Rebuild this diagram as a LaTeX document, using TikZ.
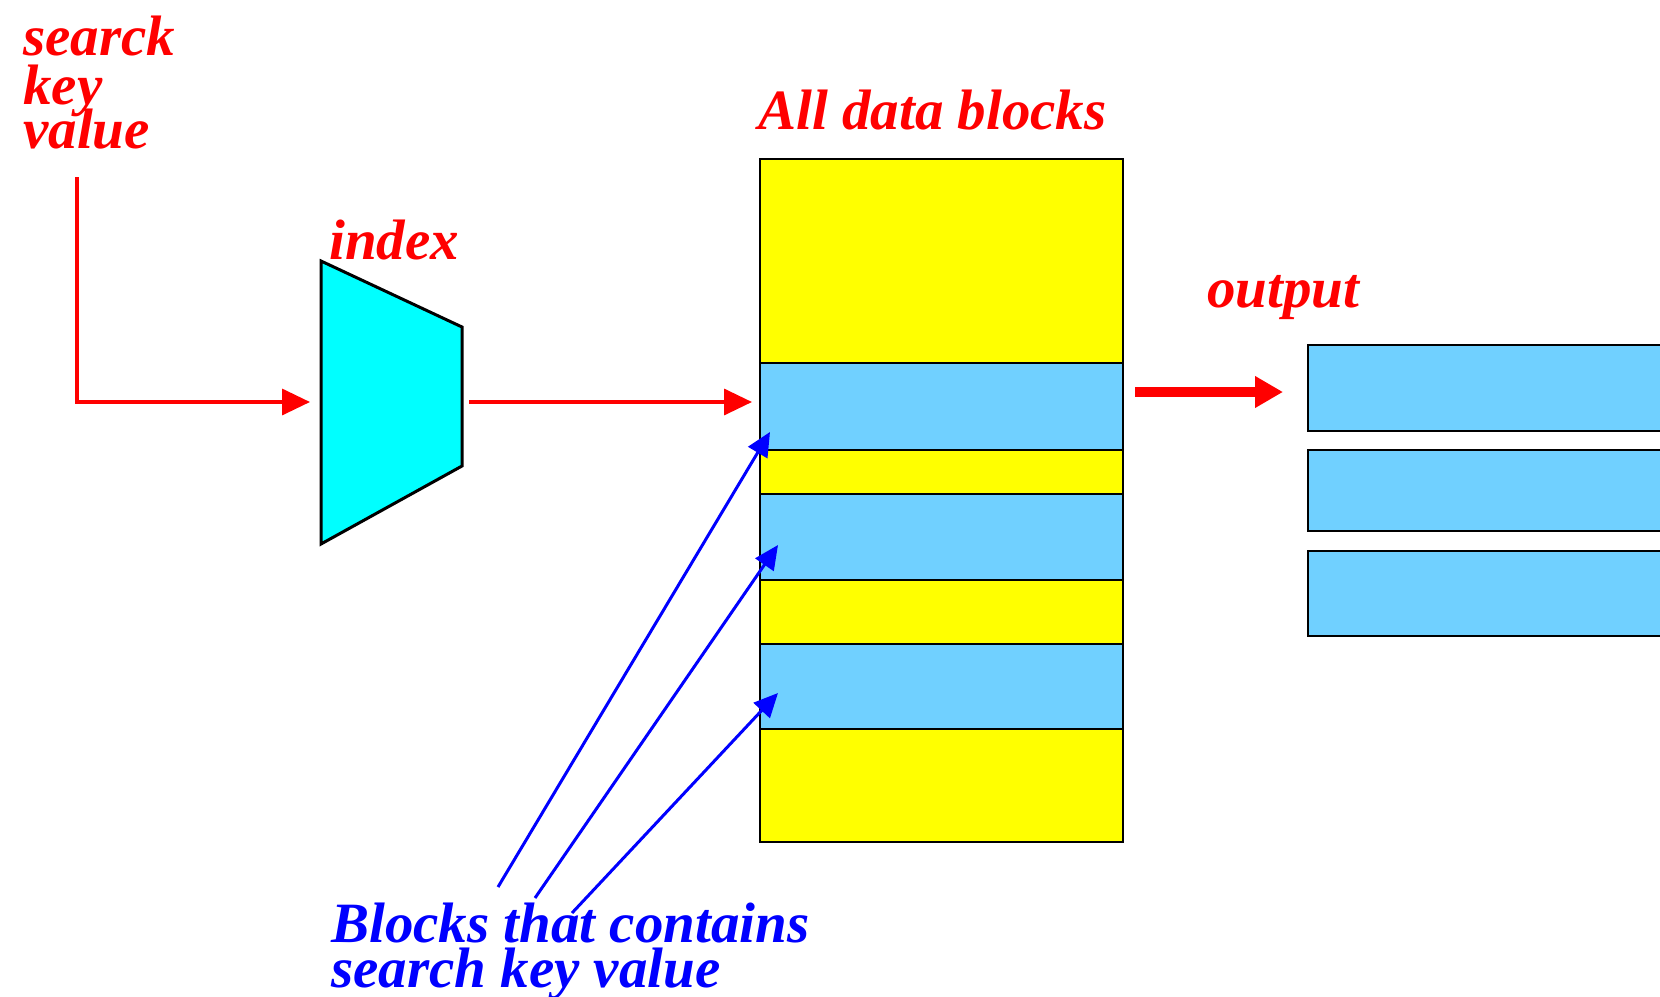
\documentclass[tikz,border=0pt]{standalone}
\usepackage{fontspec}
\setmainfont{Liberation Serif}
\usetikzlibrary{arrows.meta}
\definecolor{blockblue}{RGB}{112,208,255}
\definecolor{idxcyan}{RGB}{0,255,255}
\definecolor{blockyellow}{RGB}{255,255,0}
\definecolor{pured}{RGB}{255,0,0}
\definecolor{purblue}{RGB}{0,0,255}
\begin{document}
\begin{tikzpicture}[x=1pt,y=-1pt,
  lbl/.style={inner sep=0pt, anchor=base west,
    font=\fontsize{57}{57}\selectfont\bfseries\itshape},
  redlbl/.style={lbl, text=pured},
  bluelbl/.style={lbl, text=purblue},
  cell/.style={draw=black, line width=2.5pt, inner sep=0pt,
    minimum width=363pt},
  hit/.style={cell, fill=blockblue},
  miss/.style={cell, fill=blockyellow},
  outrec/.style={draw=black, line width=2.5pt, inner sep=0pt,
    fill=blockblue, minimum width=392pt},
  redarrow/.style={draw=pured, line width=3.5pt,
    -{Triangle[length=28pt,width=26pt]}},
  fatarrow/.style={draw=pured, line width=10pt,
    -{Triangle[length=28pt,width=30pt]}},
  bluearrow/.style={draw=purblue, line width=3pt,
    -{Triangle[length=24pt,width=22pt]}},
]
\clip (0,0) rectangle (1660,996);

% search key input
\node[redlbl] (skv1) at (23,55) {searck};
\node[redlbl] (skv2) at (23,104) {key};
\node[redlbl] (skv3) at (23,148) {value};
\coordinate (keystart) at (77,177);
\coordinate (idxin) at (310,402);

% index
\draw[fill=idxcyan, line width=3pt, line join=miter]
  (321,261) coordinate (ia) -- (462,327) coordinate (ib)
  -- (462,466) coordinate (ic) -- (321,544) coordinate (id) -- cycle;
\node[redlbl] (idxlbl) at (329,259) {index};
\coordinate (idxout) at (469,402);
\coordinate (blkin) at (752,402);

% stack of data blocks
\node[redlbl] (alllbl) at (758,129) {All data blocks};
\node[miss, minimum height=204pt] (r1) at (941.5,261) {};
\node[hit,  minimum height=87pt]  (r2) at (941.5,406.5) {};
\node[miss, minimum height=44pt]  (r3) at (941.5,472) {};
\node[hit,  minimum height=86pt]  (r4) at (941.5,537) {};
\node[miss, minimum height=64pt]  (r5) at (941.5,612) {};
\node[hit,  minimum height=85pt]  (r6) at (941.5,686.5) {};
\node[miss, minimum height=113pt] (r7) at (941.5,785.5) {};

% output
\node[redlbl] (outlbl) at (1207,307) {output};
\coordinate (outstart) at (1135,392);
\coordinate (outend) at (1283,392);
\node[outrec, minimum height=86pt] (o1) at (1504,388) {};
\node[outrec, minimum height=81pt] (o2) at (1504,490.5) {};
\node[outrec, minimum height=85pt] (o3) at (1504,593.5) {};

% matching blocks
\coordinate (t1) at (498,887);
\coordinate (t2) at (535,898);
\coordinate (t3) at (572,913);
\coordinate (h1) at (770,432);
\coordinate (h2) at (778,545);
\coordinate (h3) at (778,693);
\node[bluelbl] (blk1) at (331,942) {Blocks that contains};
\node[bluelbl] (blk2) at (331,987) {search key value};

% connectors
\draw[redarrow] (keystart) |- (idxin);
\draw[redarrow] (idxout) -- (blkin);
\draw[fatarrow] (outstart) -- (outend);
\draw[bluearrow] (t1) -- (h1);
\draw[bluearrow] (t2) -- (h2);
\draw[bluearrow] (t3) -- (h3);
\end{tikzpicture}
\end{document}
